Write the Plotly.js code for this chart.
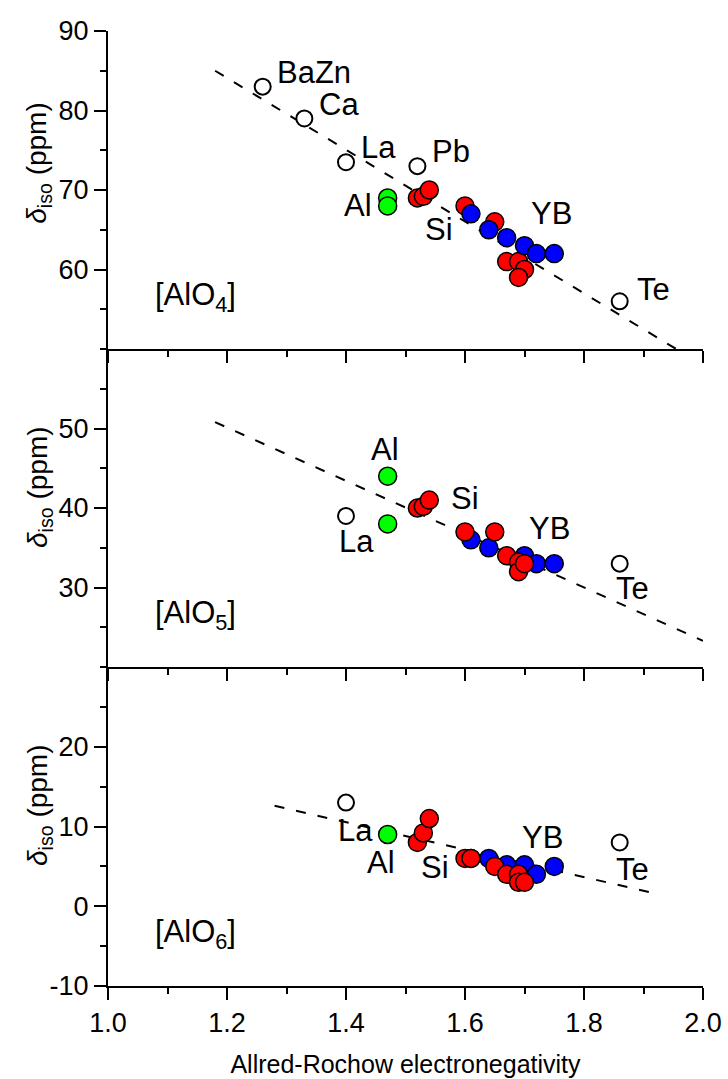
<!DOCTYPE html>
<html>
<head>
<meta charset="utf-8">
<script src="https://cdn.plot.ly/plotly-3.0.1.min.js"></script>
<style>
html,body{margin:0;padding:0;background:#fff;}
#chart{width:728px;height:1079px;}
</style>
</head>
<body>
<div id="chart"></div>
<script>
// ---------- Data ----------
// [AlO4] panel
const open4X  = [1.26, 1.33, 1.40, 1.52, 1.86];
const open4Y  = [83, 79, 73.5, 73, 56];
const green4X = [1.47, 1.47];
const green4Y = [69, 68];
const red4X   = [1.52, 1.53, 1.54, 1.60, 1.65, 1.67, 1.69, 1.70, 1.69];
const red4Y   = [69, 69.2, 70, 68, 66, 61, 61, 60, 59];
const blue4X  = [1.61, 1.64, 1.67, 1.70, 1.72, 1.75];
const blue4Y  = [67, 65, 64, 63, 62, 62];
const fit4X   = [1.18, 1.955];
const fit4Y   = [85, 50];

// [AlO5] panel
const open5X  = [1.40, 1.86];
const open5Y  = [39, 33];
const green5X = [1.47, 1.47];
const green5Y = [44, 38];
const red5X   = [1.52, 1.53, 1.54, 1.60, 1.65, 1.67, 1.69, 1.69, 1.70];
const red5Y   = [40, 40.2, 41, 37, 37, 34, 33.2, 32, 33];
const blue5X  = [1.61, 1.64, 1.70, 1.72, 1.75];
const blue5Y  = [36, 35, 34, 33, 33];
const fit5X   = [1.18, 2.0];
const fit5Y   = [50.8, 23.3];

// [AlO6] panel
const open6X  = [1.40, 1.86];
const open6Y  = [13, 8];
const green6X = [1.47];
const green6Y = [9];
const red6X   = [1.52, 1.53, 1.54, 1.60, 1.61, 1.65, 1.67, 1.69, 1.69, 1.70];
const red6Y   = [8, 9.2, 11, 6, 6, 5, 4, 4, 3, 3];
const blue6X  = [1.61, 1.64, 1.67, 1.70, 1.72, 1.75];
const blue6Y  = [6, 6, 5.2, 5.2, 4, 5];
const fit6X   = [1.28, 1.92];
const fit6Y   = [12.6, 1.6];

// Labels
const lab4Text = ['BaZn', 'Ca', 'La', 'Pb', 'Al', 'Si', 'YB', 'Te'];
const lab4X    = [1.347, 1.388, 1.455, 1.576, 1.420, 1.557, 1.746, 1.917];
const lab4Y    = [84.8, 80.7, 75.3, 74.8, 68.1, 65.0, 67.1, 57.5];
const lab5Text = ['Al', 'La', 'Si', 'YB', 'Te'];
const lab5X    = [1.466, 1.417, 1.600, 1.742, 1.882];
const lab5Y    = [47.3, 35.8, 41.2, 37.4, 29.9];
const lab6Text = ['La', 'Al', 'Si', 'YB', 'Te'];
const lab6X    = [1.416, 1.458, 1.550, 1.731, 1.881];
const lab6Y    = [9.5, 5.5, 4.9, 8.65, 4.6];

const panelText = ['[AlO<sub>4</sub>]', '[AlO<sub>5</sub>]', '[AlO<sub>6</sub>]'];
const panelY    = [56.5, 26.5, -3.5];

const yTick4 = [60, 70, 80, 90];
const yTick5 = [30, 40, 50];
const yTick6 = [-10, 0, 10, 20];
const yText6 = ['-10', '0', '10', '20'];

const xTitle = 'Allred-Rochow electronegativity';
const yTitle = '<i>δ</i><sub>iso</sub> (ppm)';

// ---------- Styles ----------
const FONT = 'Liberation Sans, Arial, sans-serif';
const RED = '#FF0000', BLUE = '#0000FF', GREEN = '#00FF00';

function fitLine(x, y, xa, ya) {
  return {x: x, y: y, xaxis: xa, yaxis: ya, mode: 'lines', type: 'scatter',
          line: {color: '#000', width: 2, dash: '10px,12px'}, hoverinfo: 'skip', showlegend: false};
}
function pts(x, y, xa, ya, fill, size, lw) {
  return {x: x, y: y, xaxis: xa, yaxis: ya, mode: 'markers', type: 'scatter', showlegend: false,
          marker: {symbol: 'circle', size: size, color: fill, line: {color: '#000', width: lw}}};
}

const traces = [
  fitLine(fit4X, fit4Y, 'x', 'y'),
  pts(open4X, open4Y, 'x', 'y', '#FFFFFF', 16, 2),
  pts(green4X, green4Y, 'x', 'y', GREEN, 18, 1.5),
  pts(red4X, red4Y, 'x', 'y', RED, 18, 1.5),
  pts(blue4X, blue4Y, 'x', 'y', BLUE, 18, 1.5),

  fitLine(fit5X, fit5Y, 'x2', 'y2'),
  pts(open5X, open5Y, 'x2', 'y2', '#FFFFFF', 16, 2),
  pts(green5X, green5Y, 'x2', 'y2', GREEN, 18, 1.5),
  pts(blue5X, blue5Y, 'x2', 'y2', BLUE, 18, 1.5),
  pts(red5X, red5Y, 'x2', 'y2', RED, 18, 1.5),

  fitLine(fit6X, fit6Y, 'x3', 'y3'),
  pts(open6X, open6Y, 'x3', 'y3', '#FFFFFF', 16, 2),
  pts(green6X, green6Y, 'x3', 'y3', GREEN, 18, 1.5),
  pts(blue6X, blue6Y, 'x3', 'y3', BLUE, 18, 1.5),
  pts(red6X, red6Y, 'x3', 'y3', RED, 18, 1.5)
];

function xAxis(anchor, labels) {
  const a = {
    anchor: anchor, domain: [0, 1], range: [1, 2], showline: true, linecolor: '#000', linewidth: 2,
    mirror: false, showgrid: false, zeroline: false,
    ticks: 'outside', ticklen: 12, tickwidth: 2, tickcolor: '#000',
    tickmode: 'linear', tick0: 1, dtick: 0.2, tickformat: '.1f',
    showticklabels: labels, tickfont: {family: FONT, size: 27, color: '#000'},
    minor: {tickmode: 'linear', tick0: 1, dtick: 0.1, ticks: 'outside', ticklen: 6, tickwidth: 2, tickcolor: '#000'}
  };
  if (labels) a.title = {text: xTitle, font: {family: FONT, size: 25, color: '#000'}, standoff: 18};
  else a.matches = 'x3';
  return a;
}
function yAxis(anchor, domain, range, vals, text) {
  return {
    anchor: anchor, domain: domain, range: range, showline: true, linecolor: '#000', linewidth: 2,
    showgrid: false, zeroline: false,
    ticks: 'outside', ticklen: 12, tickwidth: 2, tickcolor: '#000',
    tickmode: 'array', tickvals: vals, ticktext: text,
    tickfont: {family: FONT, size: 27, color: '#000'},
    minor: {tickmode: 'linear', tick0: 0, dtick: 5, ticks: 'outside', ticklen: 6, tickwidth: 2, tickcolor: '#000'}
  };
}

const annotations = [];
function addLabels(t, xs, ys, xa, ya) {
  for (let i = 0; i < t.length; i++) {
    annotations.push({text: t[i], x: xs[i], y: ys[i], xref: xa, yref: ya, showarrow: false,
      xanchor: 'center', yanchor: 'middle', font: {family: FONT, size: 31, color: '#000'}});
  }
}
addLabels(lab4Text, lab4X, lab4Y, 'x', 'y');
addLabels(lab5Text, lab5X, lab5Y, 'x2', 'y2');
addLabels(lab6Text, lab6X, lab6Y, 'x3', 'y3');
const pAx = [['x', 'y'], ['x2', 'y2'], ['x3', 'y3']];
for (let i = 0; i < 3; i++) {
  annotations.push({text: panelText[i], x: 1.076, y: panelY[i], xref: pAx[i][0], yref: pAx[i][1],
    showarrow: false, xanchor: 'left', yanchor: 'middle', font: {family: FONT, size: 31, color: '#000'}});
}
const yTitleY = [0.862, 0.5225, 0.1895];
for (let i = 0; i < 3; i++) {
  annotations.push({text: yTitle, x: -0.116, y: yTitleY[i], xref: 'paper', yref: 'paper',
    textangle: -90, showarrow: false, xanchor: 'center', yanchor: 'middle',
    font: {family: FONT, size: 28, color: '#000'}});
}

const layout = {
  width: 728, height: 1079,
  margin: {l: 108, r: 25, t: 31, b: 93, pad: 0},
  paper_bgcolor: '#fff', plot_bgcolor: '#fff',
  showlegend: false,
  xaxis: xAxis('y', false),
  xaxis2: xAxis('y2', false),
  xaxis3: xAxis('y3', true),
  yaxis: yAxis('x', [0.667, 1], [50, 90], yTick4, yTick4.map(String)),
  yaxis2: yAxis('x2', [0.334, 0.667], [20, 60], yTick5, yTick5.map(String)),
  yaxis3: yAxis('x3', [0, 0.334], [-10, 30], yTick6, yText6),
  annotations: annotations
};

Plotly.newPlot('chart', traces, layout, {displayModeBar: false, staticPlot: true});
</script>
</body>
</html>
